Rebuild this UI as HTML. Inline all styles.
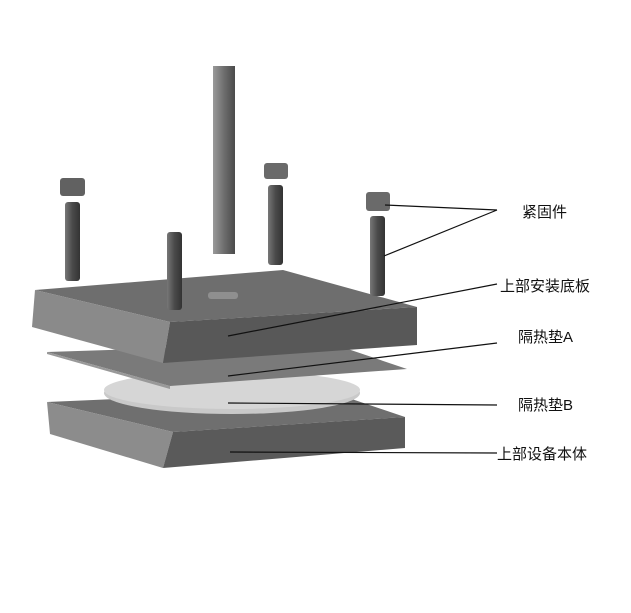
<!DOCTYPE html>
<html><head><meta charset="utf-8"><style>
body{margin:0;background:#fff;width:631px;height:613px;overflow:hidden}
svg{position:absolute;left:0;top:0}
text{font-family:"Liberation Sans","Noto Sans CJK SC",sans-serif;font-size:15px;fill:#111}
</style></head><body>
<svg width="631" height="613" viewBox="0 0 631 613">
<defs>
<linearGradient id="rod" x1="0" x2="1"><stop offset="0" stop-color="#9a9a9a"/><stop offset=".5" stop-color="#6e6e6e"/><stop offset="1" stop-color="#4a4a4a"/></linearGradient>
<linearGradient id="bolt" x1="0" x2="1"><stop offset="0" stop-color="#777"/><stop offset=".5" stop-color="#4a4a4a"/><stop offset="1" stop-color="#333"/></linearGradient>
</defs>
<!-- bottom plate -->
<polygon points="47,402 325,390 405,417 173,432" fill="#6f6f6f"/>
<polygon points="47,402 173,432 163,468 50,434" fill="#8c8c8c"/>
<polygon points="173,432 405,417 405,448 163,468" fill="#5a5a5a"/>
<!-- disc B -->
<ellipse cx="232" cy="393" rx="128" ry="21" fill="#c9c9c9"/>
<ellipse cx="232" cy="390" rx="128" ry="19" fill="#d6d6d6"/>
<!-- plate A -->
<polygon points="47,352 330,343 407,369 170,386" fill="#7a7a7a"/>
<polygon points="47,352 170,386 170,389 47,354" fill="#999"/>
<!-- top plate -->
<polygon points="35,290 283,270 417,307 170,322" fill="#6e6e6e"/>
<polygon points="35,290 170,322 163,363 32,327" fill="#8a8a8a"/>
<polygon points="170,322 417,307 417,345 163,363" fill="#585858"/>
<rect x="208" y="292" width="30" height="7" rx="3" fill="#8f8f8f"/>
<!-- rods -->
<rect x="213" y="66" width="22" height="188" fill="url(#rod)"/>
<rect x="65" y="202" width="15" height="79" rx="3" fill="url(#bolt)"/>
<rect x="60" y="178" width="25" height="18" rx="3" fill="#616161"/>
<rect x="167" y="232" width="15" height="78" rx="3" fill="url(#bolt)"/>
<rect x="268" y="185" width="15" height="80" rx="3" fill="url(#bolt)"/>
<rect x="264" y="163" width="24" height="16" rx="3" fill="#6a6a6a"/>
<rect x="370" y="216" width="15" height="80" rx="3" fill="url(#bolt)"/>
<rect x="366" y="192" width="24" height="19" rx="3" fill="#6a6a6a"/>
<!-- leader lines -->
<g stroke="#111" stroke-width="1.2" fill="none">
<line x1="385" y1="205" x2="497" y2="210"/>
<line x1="384" y1="256" x2="497" y2="210"/>
<line x1="228" y1="336" x2="497" y2="284"/>
<line x1="228" y1="376" x2="497" y2="343"/>
<line x1="228" y1="403" x2="497" y2="405"/>
<line x1="230" y1="452" x2="497" y2="453"/>
</g>
<text x="522" y="217">紧固件</text>
<text x="500" y="291">上部安装底板</text>
<text x="518" y="342">隔热垫A</text>
<text x="518" y="410">隔热垫B</text>
<text x="497" y="459">上部设备本体</text>
</svg>
</body></html>
